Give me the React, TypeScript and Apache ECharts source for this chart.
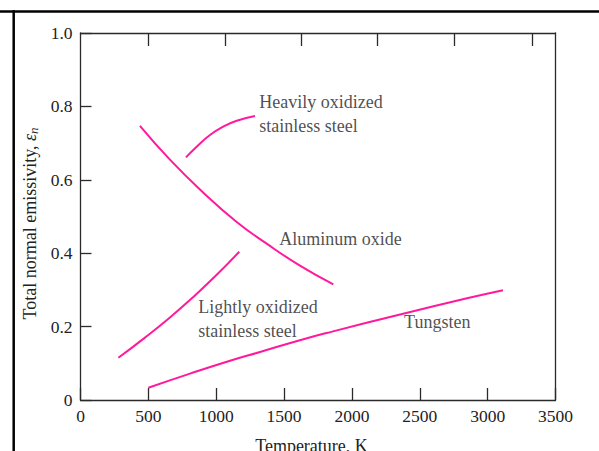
import React, { useEffect, useRef } from "react";
import * as echarts from "echarts";

// Temperature (K) / total normal emissivity pairs
const heavilyOxidizedSS: [number, number][] = [
  [777, 0.661], [856, 0.69], [954, 0.722], [1052, 0.745], [1151, 0.761], [1286, 0.774],
];
const aluminumOxide: [number, number][] = [
  [438, 0.747], [659, 0.655], [905, 0.565], [1151, 0.485], [1372, 0.426], [1617, 0.366], [1863, 0.315],
];
const lightlyOxidizedSS: [number, number][] = [
  [279, 0.115], [475, 0.17], [659, 0.225], [829, 0.28], [998, 0.339], [1170, 0.404],
];
const tungsten: [number, number][] = [
  [500, 0.0335], [807, 0.072], [1102, 0.107], [1323, 0.131], [1617, 0.163], [1861, 0.187], [2355, 0.233], [2848, 0.277], [3113, 0.299],
];

// Curve labels: text and anchor (top-left of text, in data units)
const annotationTexts = [
  "Heavily oxidized\nstainless steel",
  "Aluminum oxide",
  "Lightly oxidized\nstainless steel",
  "Tungsten",
];
const annotationAnchors: [number, number][] = [
  [1317, 0.843], [1465, 0.47], [868, 0.285], [2384, 0.245],
];

const xMin = 0, xMax = 3500, xStep = 500;
const yMin = 0, yMax = 1.0, yStep = 0.2;
const topAxisTicks = [500, 1063, 1625, 2190, 2754, 3325];

const PINK = "#ff1a9c";
const AXIS = "#2a2a2a";
const FONT = "Liberation Serif";

export default function App() {
  const ref = useRef<HTMLDivElement>(null);
  useEffect(() => {
    if (!ref.current) return;
    const chart = echarts.init(ref.current, undefined, { renderer: "svg" });
    const curve = (name: string, data: [number, number][]) => ({
      name, type: "line", data, smooth: true, symbol: "none", silent: true,
      lineStyle: { color: PINK, width: 2 },
      xAxisIndex: 0, yAxisIndex: 0,
    });
    const tickLabel = { color: "#222", fontSize: 17.5, fontFamily: FONT };
    chart.setOption({
      animation: false,
      backgroundColor: "#ffffff",
      textStyle: { fontFamily: FONT },
      grid: { left: 80.5, top: 33, width: 475, height: 367, outerBoundsMode: "none", containLabel: false },
      xAxis: [
        {
          type: "value", position: "bottom", min: xMin, max: xMax, interval: xStep,
          axisLine: { show: true, onZero: false, lineStyle: { color: AXIS, width: 1.3 } },
          axisTick: { show: true, inside: true, length: 12, lineStyle: { color: AXIS, width: 1.3 } },
          axisLabel: {
            ...tickLabel, margin: 7, showMinLabel: true, showMaxLabel: true,
            formatter: (v: number) => String(v),
          },
          splitLine: { show: false },
          name: "Temperature, K", nameLocation: "middle", nameGap: 37,
          nameTextStyle: { color: "#222", fontSize: 18, fontFamily: FONT, padding: [0, 13, 0, 0] },
        },
        {
          type: "value", position: "top", min: xMin, max: xMax,
          axisLine: { show: true, onZero: false, lineStyle: { color: AXIS, width: 1.3 } },
          axisTick: { show: true, inside: true, length: 13, customValues: topAxisTicks, lineStyle: { color: AXIS, width: 1.3 } },
          axisLabel: { show: false },
          splitLine: { show: false },
        },
      ],
      yAxis: [
        {
          type: "value", position: "left", min: yMin, max: yMax, interval: yStep,
          axisLine: { show: true, onZero: false, lineStyle: { color: AXIS, width: 1.3 } },
          axisTick: { show: true, inside: true, length: 11, lineStyle: { color: AXIS, width: 1.3 } },
          axisLabel: {
            ...tickLabel, margin: 8,
            formatter: (v: number) => (v === 0 ? "0" : v.toFixed(1)),
          },
          splitLine: { show: false },
          name: "Total normal emissivity, {e|ε}{n|n}", nameLocation: "middle", nameGap: 38,
          nameTextStyle: {
            color: "#222", fontSize: 18, fontFamily: FONT, padding: [0, 14, 0, 0],
            rich: {
              e: { fontSize: 18, fontStyle: "italic", fontFamily: FONT, color: "#222" },
              n: { fontSize: 13, fontStyle: "italic", fontFamily: FONT, color: "#222", verticalAlign: "bottom", padding: [6, 0, 0, 0] },
            },
          },
        },
        {
          type: "value", position: "right", min: yMin, max: yMax,
          axisLine: { show: true, onZero: false, lineStyle: { color: AXIS, width: 1.3 } },
          axisTick: { show: false }, axisLabel: { show: false }, splitLine: { show: false },
        },
      ],
      series: [
        curve("Heavily oxidized stainless steel", heavilyOxidizedSS),
        curve("Aluminum oxide", aluminumOxide),
        curve("Lightly oxidized stainless steel", lightlyOxidizedSS),
        curve("Tungsten", tungsten),
        {
          name: "labels", type: "scatter", silent: true, symbolSize: 0,
          data: annotationAnchors.map((p, i) => ({ value: p, name: annotationTexts[i] })),
          label: {
            show: true, position: [0, 0], align: "left", verticalAlign: "top",
            formatter: (p: any) => p.name,
            color: "#222", fontSize: 18, fontFamily: FONT, lineHeight: 23.5,
          },
        },
      ],
      graphic: [
        { type: "line", shape: { x1: 0, y1: 11.5, x2: 599, y2: 11.5 }, style: { stroke: "#000", lineWidth: 2.5 } },
        { type: "line", shape: { x1: 13.7, y1: 10.3, x2: 13.7, y2: 451 }, style: { stroke: "#000", lineWidth: 2.5 } },
      ],
    });
    return () => chart.dispose();
  }, []);
  return (
    <div
      ref={ref}
      style={{ position: "fixed", left: 0, top: 0, width: 599, height: 451, background: "#fff" }}
    />
  );
}
